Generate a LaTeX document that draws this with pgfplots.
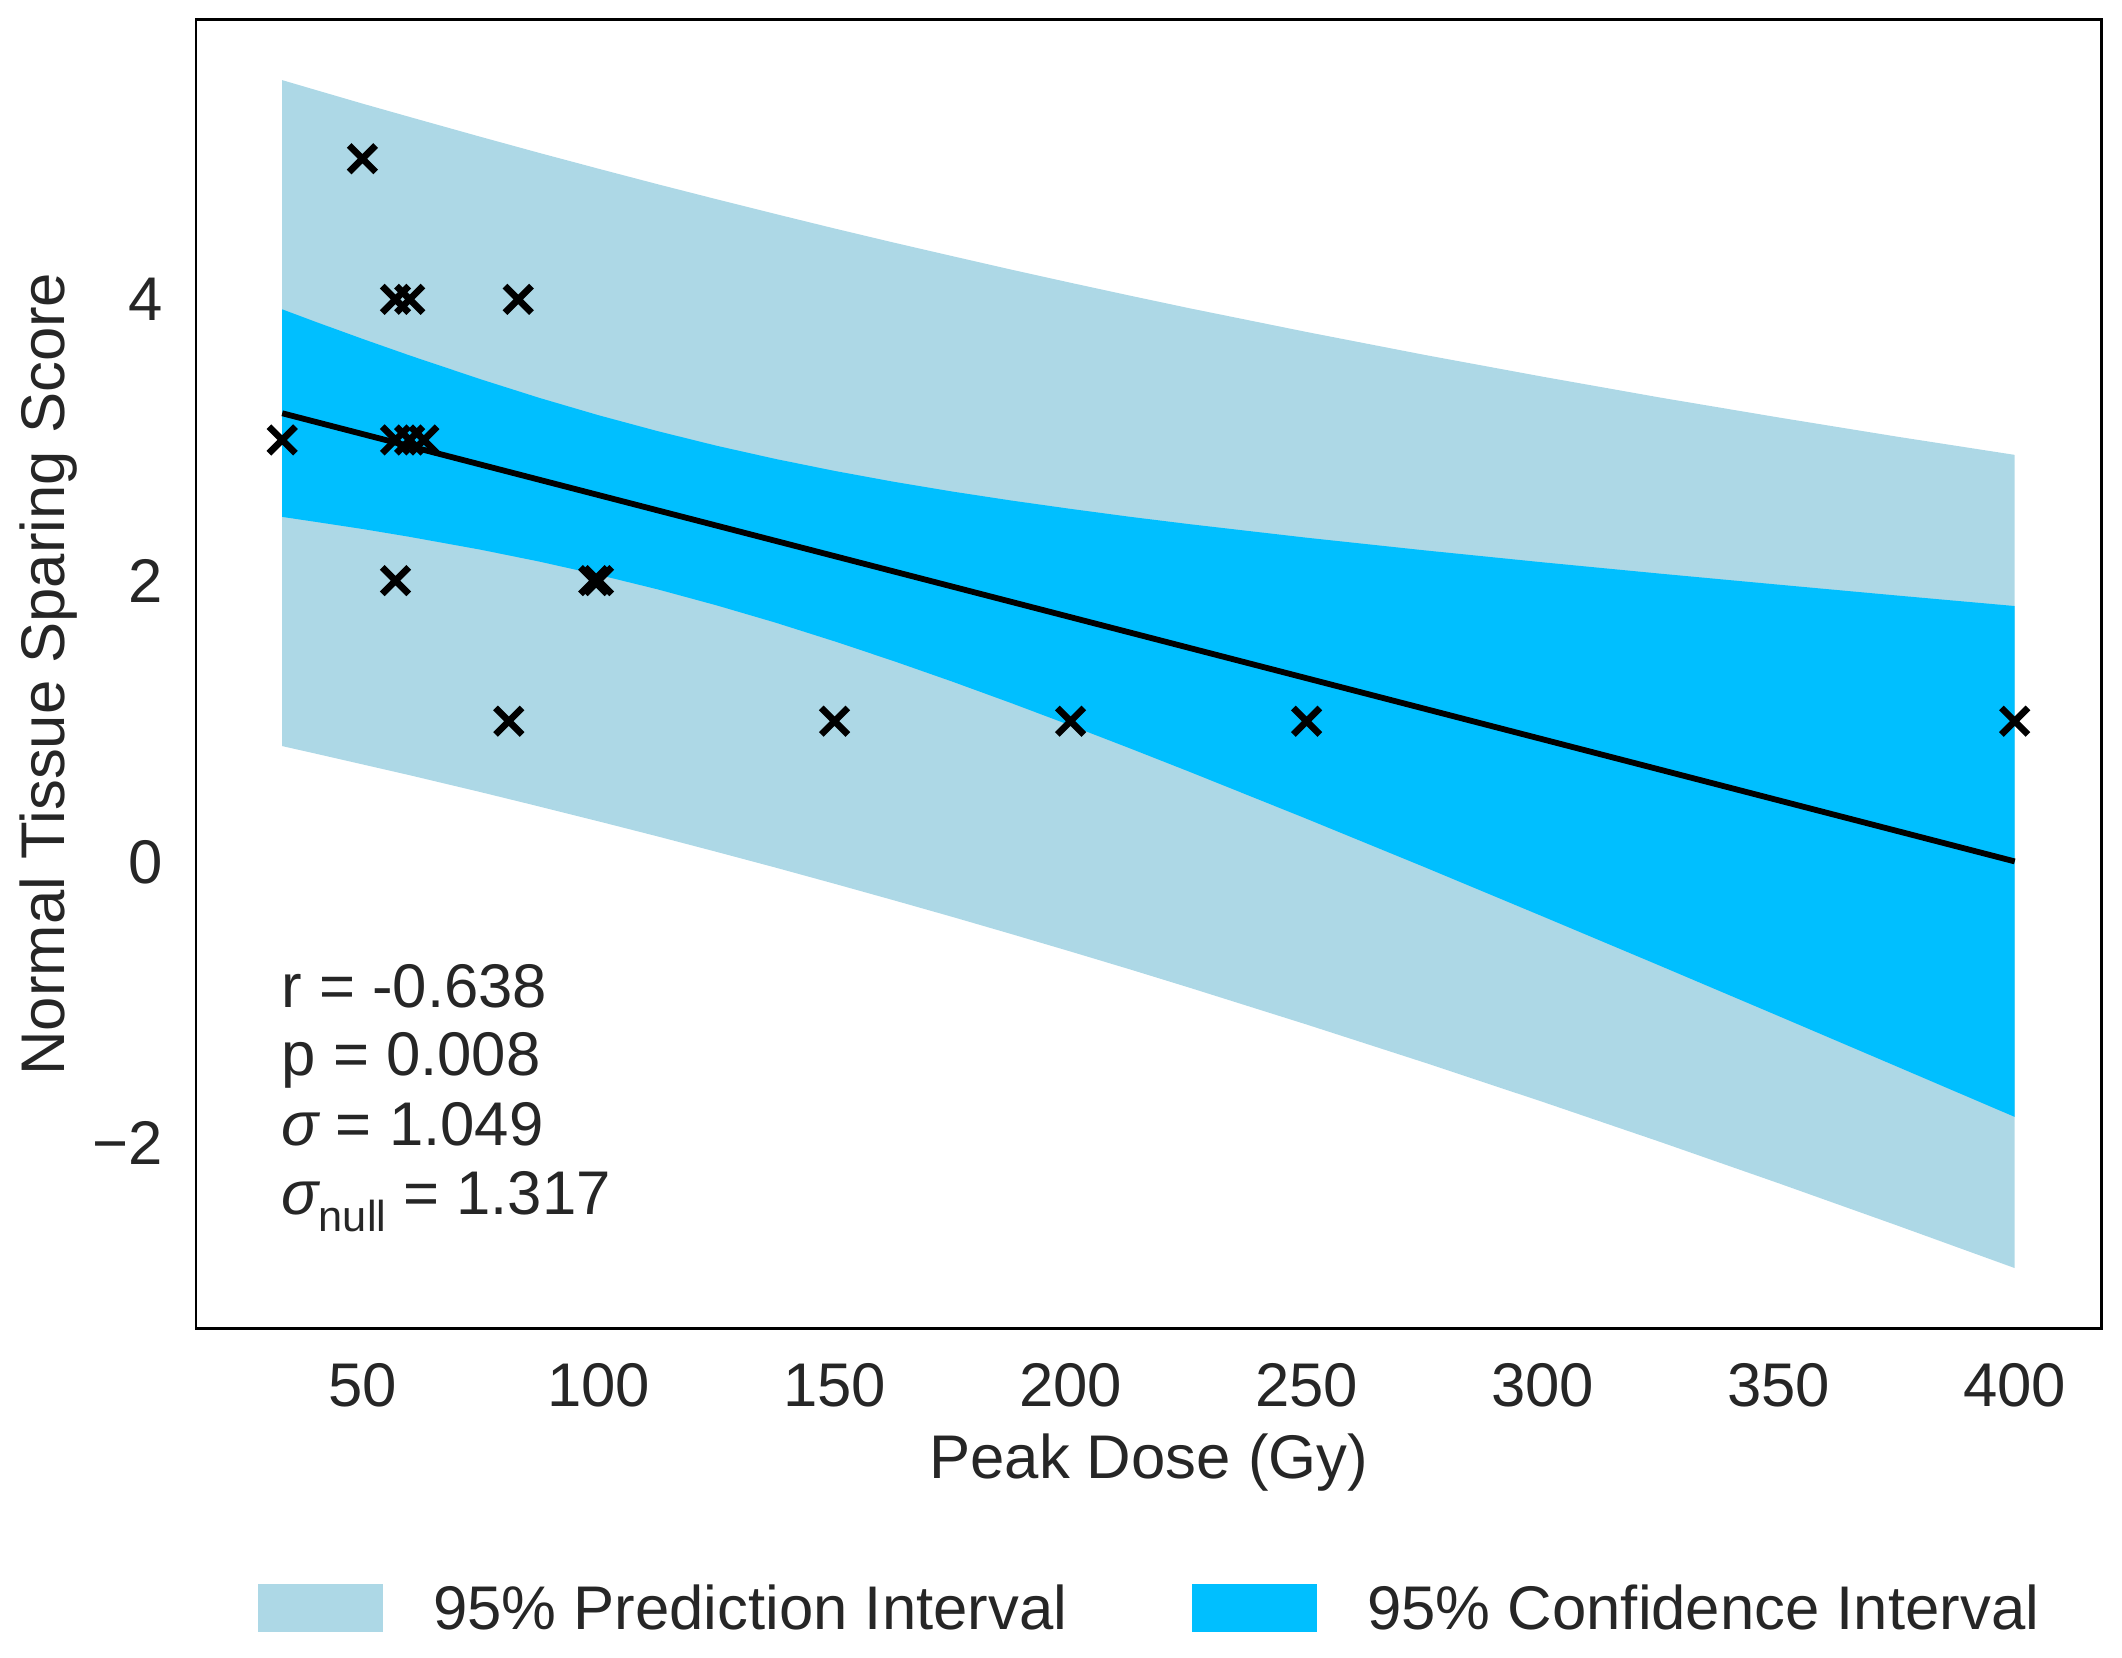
\documentclass[border=0pt]{standalone}
\usepackage{fontspec}
\setmainfont{Liberation Sans}
\usepackage{pgfplots}
\pgfplotsset{compat=1.18}
\definecolor{pilight}{HTML}{ADD8E6}
\definecolor{cideep}{HTML}{00BFFF}
\definecolor{txt}{HTML}{262626}
\newcommand{\fs}{\fontsize{14.8}{17.8}\selectfont}
\begin{document}
\begin{tikzpicture}[font=\fs]
\path[use as bounding box] (0,0) rectangle (509.3pt,397.9pt);
\begin{axis}[
  at={(47pt,79pt)}, anchor=south west,
  scale only axis, width=457.4pt, height=314.2pt,
  xmin=14.7, xmax=418.4, ymin=-3.32, ymax=5.99,
  xtick={50,100,150,200,250,300,350,400},
  xticklabels={50,100,150,200,250,300,350,400},
  ytick={-2,0,2,4},
  yticklabels={−2,0,2,4},
  major tick length=0pt,
  axis line style={black, line width=0.6pt},
  tick label style={font=\fs, text=txt},
  xticklabel style={anchor=base, yshift=-18.7pt},
  yticklabel style={anchor=east, inner xsep=0pt, xshift=-7.7pt},
  xlabel={Peak Dose (Gy)},
  ylabel={Normal Tissue Sparing Score},
  x label style={at={(axis description cs:0.5,-0.1146)}, anchor=base, font=\fs, text=txt},
  y label style={at={(axis description cs:-0.0687,0.5)}, rotate=0, anchor=base, font=\fs, text=txt},
  legend columns=2,
  legend style={at={(axis description cs:0.5,-0.215)}, anchor=center, draw=none, fill=none,
    font=\fs, text=txt, nodes={inner sep=0pt, anchor=base west},
    /tikz/every odd column/.append style={column sep=12pt},
    /tikz/every even column/.append style={column sep=30pt}},
  legend image code/.code={\fill[#1] (0pt,-0.5pt) rectangle (30pt,11pt);},
]
% 95% prediction interval
\addplot[draw=none, fill=pilight] coordinates {
(33,5.559) (40,5.490) (50,5.392) (60,5.297) (75,5.156) (87.5,5.041) (100,4.929) (112.5,4.819) (125,4.712)
(137.5,4.607) (150,4.504) (162.5,4.404) (175,4.307) (187.5,4.211) (200,4.118) (212.5,4.027) (225,3.938)
(250,3.768) (275,3.605) (300,3.450) (325,3.301) (350,3.160) (375,3.024) (400,2.894)
(400,-2.889) (375,-2.585) (350,-2.286) (325,-1.993) (300,-1.707) (275,-1.428) (250,-1.157) (225,-0.893)
(212.5,-0.764) (200,-0.638) (187.5,-0.514) (175,-0.392) (162.5,-0.273) (150,-0.156) (137.5,-0.041)
(125,0.071) (112.5,0.181) (100,0.288) (87.5,0.393) (75,0.496) (60,0.616) (50,0.693) (40,0.770) (33,0.823)
} -- cycle;
\addlegendentry{95\% Prediction Interval}
% 95% confidence interval
\addplot[draw=none, fill=cideep] coordinates {
(33,3.929) (40,3.841) (50,3.719) (60,3.601) (75,3.432) (87.5,3.299) (100,3.176) (112.5,3.063) (125,2.959)
(137.5,2.865) (150,2.780) (162.5,2.703) (175,2.633) (187.5,2.569) (200,2.510) (212.5,2.454) (225,2.402)
(250,2.305) (275,2.215) (300,2.130) (325,2.049) (350,1.971) (375,1.894) (400,1.819)
(400,-1.814) (375,-1.455) (350,-1.097) (325,-0.741) (300,-0.388) (275,-0.038) (250,0.306) (225,0.643)
(212.5,0.808) (200,0.970) (187.5,1.128) (175,1.281) (162.5,1.428) (150,1.568) (137.5,1.701)
(125,1.824) (112.5,1.938) (100,2.041) (87.5,2.135) (75,2.220) (60,2.311) (50,2.367) (40,2.418) (33,2.453)
} -- cycle;
\addlegendentry{95\% Confidence Interval}
% regression line
\addplot[forget plot, black, line width=1.4pt] coordinates {(33,3.19) (400,0.003)};
% data points
\addplot[forget plot, only marks, mark=x, mark size=4.5pt, mark options={line width=1.6pt, black}] coordinates {
(33,3) (50,5) (57,4) (60,4) (83,4) (57,3) (60,3) (63,3) (57,2) (99,2) (100,2)
(81,1) (150,1) (200,1) (250,1) (400,1)
};
\node[anchor=base west, text=txt, inner sep=0pt] at (axis description cs:0.0446,0.2452) {r = -0.638};
\node[anchor=base west, text=txt, inner sep=0pt] at (axis description cs:0.0446,0.1933) {p = 0.008};
\node[anchor=base west, text=txt, inner sep=0pt] at (axis description cs:0.0446,0.1398) {{\itshape σ} = 1.049};
\node[anchor=base west, text=txt, inner sep=0pt] at (axis description cs:0.0446,0.0871) {{\itshape σ}\raisebox{-0.28em}{\fontsize{10.4}{12}\selectfont null} = 1.317};
\end{axis}
\end{tikzpicture}
\end{document}
